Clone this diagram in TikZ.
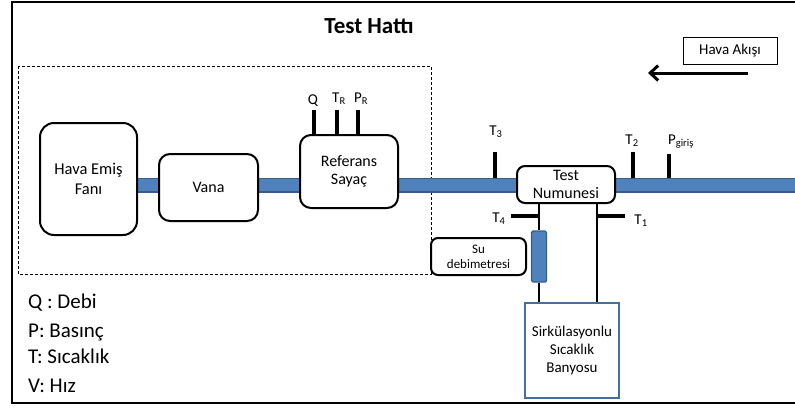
\documentclass[tikz,border=0pt]{standalone}
\usepackage{fontspec}
\setmainfont{Carlito}
\usetikzlibrary{arrows.meta}
\definecolor{pipefill}{HTML}{4F81BD}
\definecolor{pipeedge}{HTML}{385D8A}
\definecolor{bathedge}{HTML}{41719C}
\begin{document}
\begin{tikzpicture}[x=1pt,y=-1pt,
  box/.style={draw=black, line width=2pt, fill=white, rounded corners=11pt, align=center, inner sep=0pt, font=\fontsize{16}{18.5}\selectfont},
  sensor/.style={line width=3.2pt, black},
  wline/.style={line width=2.6pt, black},
  lbl/.style={inner sep=0pt, font=\fontsize{15}{17}\selectfont},
  legend/.style={anchor=base west, inner sep=0pt, font=\fontsize{21}{24}\selectfont}]
\useasboundingbox (0,0) rectangle (795,410);
% outer frame
\draw[line width=1.6pt] (12,2) rectangle (800,403);
% title
\node[anchor=base, inner sep=0pt, font=\fontsize{23}{26}\selectfont\bfseries] (title) at (369,33) {Test Hattı};
% dashed box
\draw[dash pattern=on 3pt off 2pt, line width=0.8pt] (18,66) rectangle (431,274);
% pipe
\coordinate (p0) at (137,185);
\coordinate (p1) at (800,185);
\draw[line width=15pt, pipeedge] (p0) -- (p1);
\draw[line width=12.5pt, pipefill] (p0) -- (p1);
% boxes
\node[box, minimum width=97pt, minimum height=112pt, rounded corners=14pt, font=\fontsize{16.5}{20}\selectfont] (fan) at (88.5,179) {Hava Emiş\\Fanı};
\node[box, minimum width=99pt, minimum height=67pt] (vana) at (208.5,187.5) {Vana};
\node[box, minimum width=98pt, minimum height=73pt] (ref) at (349,171.5) {Referans\\Sayaç};
\node[box, minimum width=98pt, minimum height=37pt, rounded corners=8pt] (test) at (566,184.5) {Test\\Numunesi};
% sensors on reference meter
\coordinate (sq) at (314,110);
\coordinate (st) at (337,110);
\coordinate (sp) at (358,110);
\draw[sensor] (sq) -- (sq |- ref.north);
\draw[sensor] (st) -- (st |- ref.north);
\draw[sensor] (sp) -- (sp |- ref.north);
\node[lbl, anchor=base] (lq) at (313,104) {Q};
\node[lbl, anchor=base] (ltr) at (339,102) {T\textsubscript{R}};
\node[lbl, anchor=base] (lpr) at (361,102) {P\textsubscript{R}};
% pipe sensors
\coordinate (s3) at (495,152);
\coordinate (s3b) at (495,178);
\coordinate (s2) at (633,152);
\coordinate (s2b) at (633,178);
\coordinate (sg) at (669,154);
\coordinate (sgb) at (669,178);
\draw[sensor] (s3) -- (s3b);
\draw[sensor] (s2) -- (s2b);
\draw[sensor] (sg) -- (sgb);
\node[lbl, anchor=base] (l3) at (496,135) {T\textsubscript{3}};
\node[lbl, anchor=base] (l2) at (632,144) {T\textsubscript{2}};
\node[lbl, anchor=base] (lg) at (681,144) {P\textsubscript{giriş}};
% air flow
\node[draw=black, line width=0.8pt, fill=white, minimum width=94pt, minimum height=27pt, inner sep=0pt, font=\fontsize{15}{17}\selectfont] (akis) at (730,50.5) {Hava Akışı};
\coordinate (a0) at (748,73);
\coordinate (a1) at (648,73);
\draw[line width=3pt, -{Straight Barb[length=8pt, width=15pt, line width=3pt]}] (a0) -- (a1);
% bath
\node[draw=bathedge, line width=1.6pt, fill=white, minimum width=94pt, minimum height=95pt, inner sep=0pt, align=center, font=\fontsize{15}{18}\selectfont] (bath) at (572,350.5) {Sirkülasyonlu\\Sıcaklık\\Banyosu};
% flowmeter
\node[draw=pipeedge, fill=pipefill, line width=1.4pt, rounded corners=1.5pt, minimum width=15pt, minimum height=51pt, inner sep=0pt] (flow) at (539,256.5) {};
% water lines
\coordinate (wl) at (539,203);
\coordinate (wr) at (597,203);
\draw[wline] (wl) -- (flow.north);
\draw[wline] (flow.south) -- (flow.south |- bath.north);
\draw[wline] (wr) -- (wr |- bath.north);
% T4, T1
\coordinate (t4) at (511,216);
\coordinate (t4b) at (539,216);
\coordinate (t1) at (625,216);
\coordinate (t1b) at (597,216);
\draw[sensor] (t4) -- (t4b);
\draw[sensor] (t1b) -- (t1);
\node[lbl, anchor=base] (l4) at (499,222) {T\textsubscript{4}};
\node[lbl, anchor=base] (l1) at (641,224) {T\textsubscript{1}};
% su debimetresi
\node[box, minimum width=95pt, minimum height=37pt, rounded corners=7pt, font=\fontsize{13}{15}\selectfont] (su) at (478.5,256.5) {Su\\debimetresi};
% legend
\node[legend] (lgq) at (28,308) {Q : Debi};
\node[legend] (lgp) at (28,337) {P: Basınç};
\node[legend] (lgt) at (28,363) {T: Sıcaklık};
\node[legend] (lgv) at (28,392) {V: Hız};
\end{tikzpicture}
\end{document}
